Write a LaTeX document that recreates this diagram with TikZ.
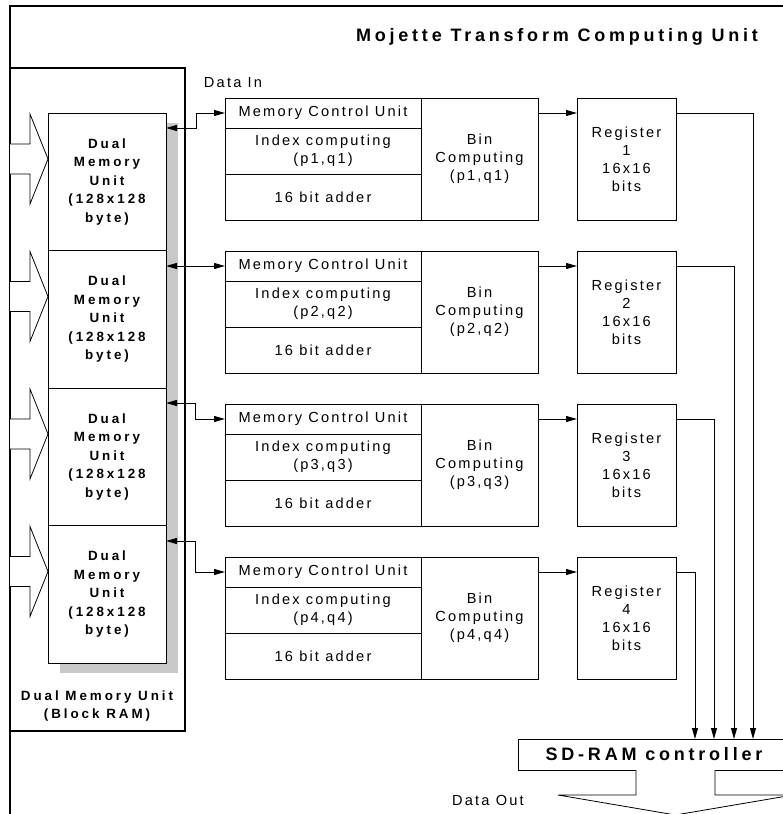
\documentclass[tikz,border=0pt]{standalone}
\usepackage{fontspec}
\setmainfont{Liberation Sans}[LetterSpace=15]
\newfontfamily\boldwide{Liberation Sans}[LetterSpace=22]
\newfontfamily\titlewide{Liberation Sans}[LetterSpace=21]
\usetikzlibrary{arrows.meta}
\definecolor{shadowgray}{RGB}{200,200,200}

\newcommand{\bodyfont}{\fontsize{14.6}{18}\selectfont}
\newcommand{\memfont}{\boldwide\bfseries\fontsize{13.4}{18.5}\selectfont}
\newcommand{\headfont}{\titlewide\bfseries\fontsize{18}{20}\selectfont}

\tikzset{
  unitbox/.style={draw, line width=1pt, fill=white, anchor=north west, inner sep=0pt, outer sep=0pt, align=center, font=\bodyfont},
  ctlbox/.style={unitbox, minimum width=196pt, minimum height=30pt},
  rowbox/.style={unitbox, minimum width=196pt, minimum height=46pt},
  binbox/.style={unitbox, minimum width=117pt, minimum height=122pt},
  regbox/.style={unitbox, minimum width=99pt, minimum height=122pt},
  membox/.style={unitbox, minimum width=118pt, minimum height=137.5pt, font=\memfont},
  plaintext/.style={inner sep=0pt, align=center, font=\bodyfont},
  hollow/.style={draw, line width=0.8pt, fill=white, line join=miter}
}

\begin{document}
\begin{tikzpicture}[x=1pt, y=-1pt, line width=1pt, >={Triangle[length=11pt,width=6pt]}]
\useasboundingbox (0,0) rectangle (783,814);
\clip (0,0) rectangle (783,814);

% outer frame and title
\draw[line width=2.2pt] (800,6) -- (10,6) -- (10,830);
\node[plaintext, font=\headfont] (title) at (557,37) {Mojette Transform Computing Unit};

% block RAM
\node[draw, line width=2.2pt, anchor=north west, inner sep=0pt, outer sep=0pt, minimum width=175pt, minimum height=663pt] (bram) at (10,68) {};
\node[plaintext, font=\memfont] (bramtext) at (97,706) {Dual Memory Unit\\(Block RAM)};
\fill[shadowgray] (60,123) rectangle (178,673);
\node[membox] (mem1) at (48,113) {Dual\\Memory\\Unit\\(128x128\\byte)};
\node[membox] (mem2) at (48,250.5) {Dual\\Memory\\Unit\\(128x128\\byte)};
\node[membox] (mem3) at (48,388) {Dual\\Memory\\Unit\\(128x128\\byte)};
\node[membox] (mem4) at (48,525.5) {Dual\\Memory\\Unit\\(128x128\\byte)};

% input arrows
\draw[hollow] (10,144) -- (30,144) -- (30,114) -- (48,159) -- (30,204) -- (30,174) -- (10,174);
\draw[hollow] (10,281.5) -- (30,281.5) -- (30,251.5) -- (48,296.5) -- (30,341.5) -- (30,311.5) -- (10,311.5);
\draw[hollow] (10,419) -- (30,419) -- (30,389) -- (48,434) -- (30,479) -- (30,449) -- (10,449);
\draw[hollow] (10,556.5) -- (30,556.5) -- (30,526.5) -- (48,571.5) -- (30,616.5) -- (30,586.5) -- (10,586.5);

\node[plaintext] (datain) at (233,83) {Data In};

% computing rows
\node[ctlbox] (mcu1) at (225,98) {Memory Control Unit};
\node[rowbox] (idx1) at (225,128) {Index computing\\(p1,q1)};
\node[rowbox] (add1) at (225,174) {16 bit adder};
\node[binbox] (bin1) at (421,98) {Bin\\Computing\\(p1,q1)};
\node[regbox] (reg1) at (577,98) {Register\\1\\16x16\\bits};

\node[ctlbox] (mcu2) at (225,251) {Memory Control Unit};
\node[rowbox] (idx2) at (225,281) {Index computing\\(p2,q2)};
\node[rowbox] (add2) at (225,327) {16 bit adder};
\node[binbox] (bin2) at (421,251) {Bin\\Computing\\(p2,q2)};
\node[regbox] (reg2) at (577,251) {Register\\2\\16x16\\bits};

\node[ctlbox] (mcu3) at (225,404) {Memory Control Unit};
\node[rowbox] (idx3) at (225,434) {Index computing\\(p3,q3)};
\node[rowbox] (add3) at (225,480) {16 bit adder};
\node[binbox] (bin3) at (421,404) {Bin\\Computing\\(p3,q3)};
\node[regbox] (reg3) at (577,404) {Register\\3\\16x16\\bits};

\node[ctlbox] (mcu4) at (225,557) {Memory Control Unit};
\node[rowbox] (idx4) at (225,587) {Index computing\\(p4,q4)};
\node[rowbox] (add4) at (225,633) {16 bit adder};
\node[binbox] (bin4) at (421,557) {Bin\\Computing\\(p4,q4)};
\node[regbox] (reg4) at (577,557) {Register\\4\\16x16\\bits};

% memory <-> control unit
\draw[<->] ([yshift=-15pt]mem1.north east) -| ([xshift=-29pt]mcu1.west) -- (mcu1.west);
\draw[<->] (mem2.east |- mcu2.west) -- (mcu2.west);
\draw[<->] ([yshift=-15pt]mem3.north east) -| ([xshift=-30pt]mcu3.west) -- (mcu3.west);
\draw[<->] ([yshift=-15.5pt]mem4.north east) -| ([xshift=-30pt]mcu4.west) -- (mcu4.west);

% bin -> register
\draw[->] (bin1.east |- mcu1.east) -- (reg1.west |- mcu1.east);
\draw[->] (bin2.east |- mcu2.east) -- (reg2.west |- mcu2.east);
\draw[->] (bin3.east |- mcu3.east) -- (reg3.west |- mcu3.east);
\draw[->] (bin4.east |- mcu4.east) -- (reg4.west |- mcu4.east);

% SD-RAM controller
\node[unitbox, font=\headfont, minimum width=272pt, minimum height=31pt] (sdram) at (518,739) {SD-RAM controller};
\coordinate (col1) at (753,0);
\coordinate (col2) at (734,0);
\coordinate (col3) at (714,0);
\coordinate (col4) at (695,0);
\draw[->] (reg1.east |- mcu1.east) -| (col1 |- sdram.north);
\draw[->] (reg2.east |- mcu2.east) -| (col2 |- sdram.north);
\draw[->] (reg3.east |- mcu3.east) -| (col3 |- sdram.north);
\draw[->] (reg4.east |- mcu4.east) -| (col4 |- sdram.north);

% output arrow
\draw[hollow] (636,770) -- (636,795) -- (558,795) -- (675.5,815) -- (793,795) -- (715,795) -- (715,770);
\node[plaintext] (dataout) at (488,800) {Data Out};
\end{tikzpicture}
\end{document}
